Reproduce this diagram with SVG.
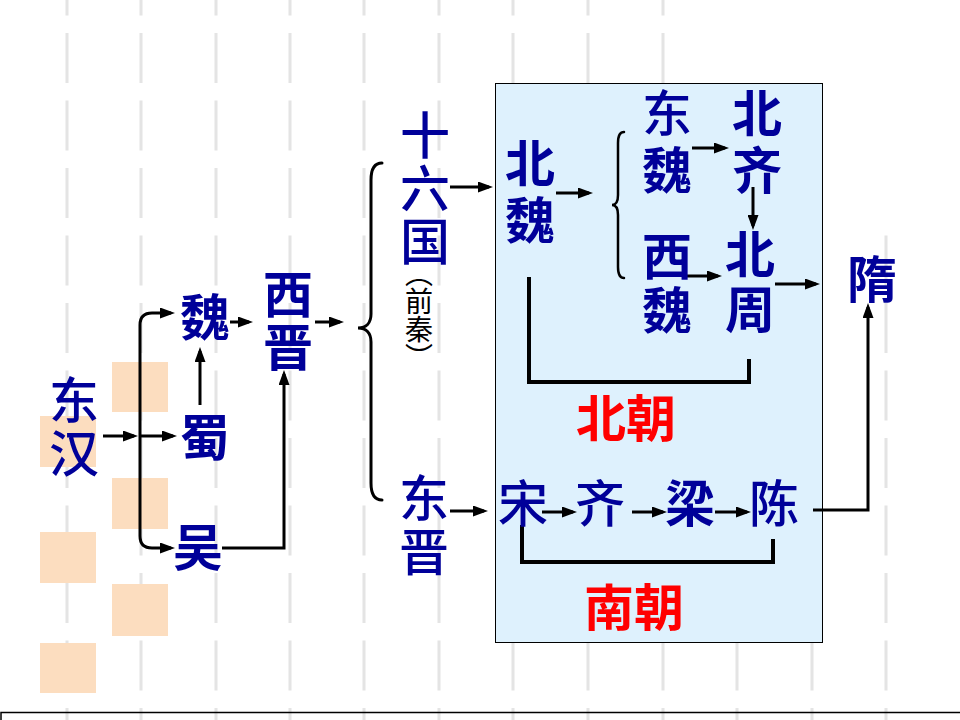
<svg xmlns="http://www.w3.org/2000/svg" width="960" height="720" viewBox="0 0 960 720">
<style>
.bgl{stroke:#E4E4E4;stroke-width:3;stroke-dasharray:50 17.5;fill:none}
.sq{fill:#FCDDBF}
.t{font-family:"Noto Sans CJK SC","Noto Sans CJK TC",sans-serif;font-size:50px;fill:#000099;text-anchor:middle;font-weight:bold}
.v{writing-mode:vertical-rl;text-anchor:start}
.tn{font-weight:500}
.red{fill:#FF0000}
.sm{font-family:"Noto Sans CJK SC",sans-serif;font-size:28px;fill:#000;writing-mode:vertical-rl}
.c{stroke:#000;stroke-width:3;fill:none;marker-end:url(#ah)}
.b{stroke:#000;stroke-width:4;fill:none}
.br{stroke:#000;stroke-width:3;fill:none;stroke-linecap:round}
</style>
<defs>
<marker id="ah" viewBox="0 0 15 11" refX="11" refY="5.5" markerWidth="15" markerHeight="11" markerUnits="userSpaceOnUse" orient="auto-start-reverse">
<path d="M0,0 L15,5.5 L0,11 z" fill="#000"/>
</marker>
</defs>
<rect width="960" height="720" fill="#fff"/>
<g id="background">
<path class="bgl" d="M67,-34.5V720M141,-34.5V720M216,-34.5V720M290,-34.5V720M364,-34.5V720M439,-34.5V720M513,-34.5V720M588,-34.5V720M663,-34.5V720M737,640.5V720M812,640.5V720M886,235.5V720"/>
<rect class="sq" x="112" y="362" width="56" height="50"/>
<rect class="sq" x="40" y="416" width="56" height="51"/>
<rect class="sq" x="112" y="478" width="56" height="51"/>
<rect class="sq" x="40" y="532" width="56" height="51"/>
<rect class="sq" x="112" y="584" width="56" height="52"/>
<rect class="sq" x="40" y="643" width="56" height="50"/>
<path d="M1,720V712.5H960" stroke="#000" stroke-width="1.5" fill="none"/>
</g>
<rect id="panel" x="495.5" y="83.5" width="327" height="559" fill="#DEF1FD" stroke="#000" stroke-width="1"/>
<g id="connectors">
<path class="c" d="M103,436H134"/>
<path class="c" d="M140,436H173"/>
<path class="c" style="marker-start:url(#ah)" d="M171,313H152Q140,313 140,325V536Q140,548 152,548H171"/>
<path class="c" d="M200,405V351"/>
<path class="c" d="M230,322H249"/>
<path class="c" d="M222,548H284V374"/>
<path class="c" d="M315,322H340"/>
<path class="br" d="M382,163C374,163 371,170 371,180V314C371,323 366,328 358,328C366,328 371,333 371,342V483C371,493 374,500 382,500"/>
<path class="c" d="M450,187H489"/>
<path class="c" d="M450,511H484"/>
<path class="c" d="M556,193H589"/>
<path class="br" style="stroke-width:2.5" d="M624,132C619,132 618,137 618,143V195C618,201 616,205 612,205C616,205 618,209 618,215V267C618,273 619,278 624,278"/>
<path class="c" d="M692,148H725"/>
<path class="c" d="M753,187V226"/>
<path class="c" d="M683,276H718"/>
<path class="c" d="M775,284H816"/>
<path class="b" d="M529,277V382H749V359"/>
<path class="c" d="M813,510H868V307"/>
<path class="c" d="M542,512H573"/>
<path class="c" d="M632,512H663"/>
<path class="c" d="M715,512H747"/>
<path class="b" d="M522,525V562H773V539"/>
</g>
<g id="donghan"><text class="t v tn" x="74" y="375" letter-spacing="3">东汉</text></g>
<g id="wei"><text class="t" x="205" y="336">魏</text></g>
<g id="shu"><text class="t" x="205" y="456">蜀</text></g>
<g id="wu"><text class="t" x="198" y="566">吴</text></g>
<g id="xijin"><text class="t v" x="288" y="269" letter-spacing="3">西晋</text></g>
<g id="shiliuguo"><text class="t v tn" x="425" y="110" letter-spacing="3">十六国</text>
<text class="sm" x="419" y="259">（前秦）</text></g>
<g id="dongjin"><text class="t v tn" x="424" y="473" letter-spacing="4">东晋</text></g>
<g id="beiwei"><text class="t v" x="530" y="138" letter-spacing="7">北魏</text></g>
<g id="dongwei"><text class="t v" x="667" y="88" letter-spacing="7"><tspan class="tn">东</tspan>魏</text></g>
<g id="beiqi"><text class="t v" x="757" y="88" letter-spacing="7">北齐</text></g>
<g id="xiwei"><text class="t v" x="667" y="231" letter-spacing="4">西魏</text></g>
<g id="beizhou"><text class="t v" x="750" y="229" letter-spacing="5">北周</text></g>
<g id="sui"><text class="t" x="872" y="298">隋</text></g>
<g id="beichao"><text class="t red" x="626" y="437">北朝</text></g>
<g id="song"><text class="t tn" x="523" y="522">宋</text></g>
<g id="qi"><text class="t tn" x="600" y="522">齐</text></g>
<g id="liang"><text class="t" x="690" y="522">梁</text></g>
<g id="chen"><text class="t tn" x="774" y="522">陈</text></g>
<g id="nanchao"><text class="t red" x="634" y="626">南朝</text></g>
</svg>
